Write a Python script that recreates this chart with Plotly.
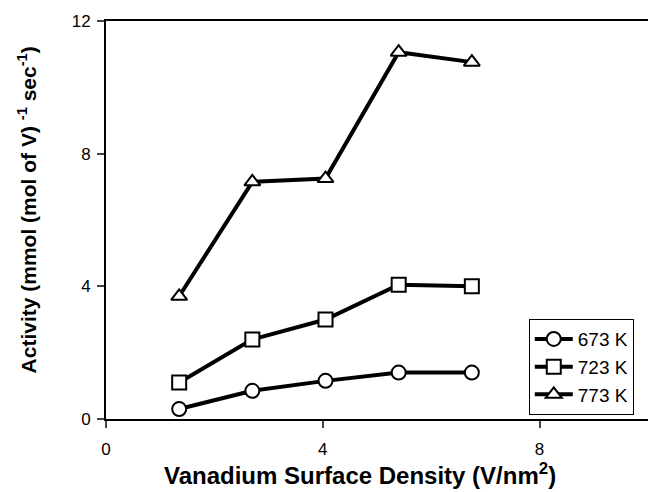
import plotly.graph_objects as go

density = [1.35, 2.7, 4.05, 5.4, 6.75]
act_673 = [0.3, 0.85, 1.15, 1.4, 1.4]
act_723 = [1.1, 2.4, 3.0, 4.05, 4.0]
act_773 = [3.7, 7.15, 7.25, 11.06, 10.76]
series_names = ["673 K", "723 K", "773 K"]
symbols = ["circle", "square", "triangle-up"]
x_ticks = [0, 4, 8]
y_ticks = [0, 4, 8, 12]

fig = go.Figure()
for name, vals, sym in zip(series_names, [act_673, act_723, act_773], symbols):
    fig.add_trace(go.Scatter(
        x=density, y=vals, name=name, mode="lines+markers",
        line=dict(color="black", width=4),
        marker=dict(symbol=sym, size=14, color="white",
                    line=dict(color="black", width=2)),
    ))

font = "Liberation Sans, Arial, sans-serif"
fig.update_layout(
    width=648, height=492,
    margin=dict(l=106, r=0, t=21, b=73),
    plot_bgcolor="white", paper_bgcolor="white",
    font=dict(family=font, size=17, color="black"),
    showlegend=True,
    legend=dict(x=0.780, y=0.251, xanchor="left", yanchor="top",
                bordercolor="black", borderwidth=1, bgcolor="white",
                font=dict(size=19), itemwidth=38, tracegroupgap=0),
    xaxis=dict(range=[0, 10], tickvals=x_ticks, ticks="outside", ticklen=7,
               tickwidth=1.5, showline=True, linecolor="black", linewidth=2,
               mirror=True, showgrid=False, zeroline=False,
               ticklabelstandoff=7, tickfont=dict(size=17)),
    yaxis=dict(range=[0, 12], tickvals=y_ticks, ticks="outside", ticklen=7,
               tickwidth=1.5, showline=True, linecolor="black", linewidth=2,
               showgrid=False, zeroline=False, ticklabelstandoff=3,
               tickfont=dict(size=17)),
    annotations=[
        dict(text="Vanadium Surface Density (V/nm<sup>2</sup>)", xref="paper",
             yref="paper", x=(360 - 106) / 542, y=-0.181, xanchor="center",
             yanchor="bottom", showarrow=False,
             font=dict(size=24, family=font, color="black", weight="bold")),
        dict(text="Activity (mmol (mol of V) <sup>-1</sup> sec<sup>-1</sup>)",
             xref="paper", yref="paper", x=-0.145, y=(419 - 210) / 398,
             xanchor="center", yanchor="middle", textangle=-90, showarrow=False,
             font=dict(size=21, family=font, color="black", weight="bold")),
    ],
)
fig.write_html("out.html")
